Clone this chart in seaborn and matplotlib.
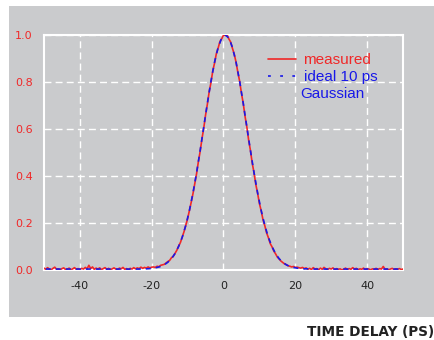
import matplotlib

matplotlib.use("Agg")
import matplotlib.pyplot as plt
import numpy as np
import pandas as pd
import seaborn as sns
from matplotlib.lines import Line2D
from matplotlib.patches import Rectangle

PANEL_GRAY = "#cacbcd"
RED = "#f02828"
BLUE = "#1818e8"

# measured autocorrelation trace, every 0.5 ps from -50 to 50
MEASURED = [
    # -50 .. -20
    0.008, 0.003, 0.010, 0.004, 0.001, 0.007, 0.012, 0.003, 0.005, 0.000,
    0.006, 0.009, 0.002, 0.004, 0.008, 0.001, 0.005, 0.010, 0.003, 0.006,
    0.002, 0.007, 0.004, 0.011, 0.005, 0.020, 0.006, 0.013, 0.003, 0.008,
    0.004, 0.009, 0.002, 0.006, 0.010, 0.003, 0.007, 0.001, 0.005, 0.009,
    0.004, 0.002, 0.008, 0.005, 0.011, 0.003, 0.006, 0.001, 0.007, 0.004,
    0.010, 0.005, 0.009, 0.006, 0.012, 0.007, 0.011, 0.008, 0.013, 0.009, 0.012,
    # -19.5 .. 20.5
    0.013, 0.011, 0.016, 0.014, 0.020, 0.022, 0.024, 0.030, 0.036, 0.041,
    0.052, 0.058, 0.071, 0.084, 0.102, 0.117, 0.140, 0.163, 0.190, 0.218,
    0.252, 0.288, 0.325, 0.368, 0.410, 0.461, 0.505, 0.558, 0.604, 0.659,
    0.705, 0.757, 0.797, 0.846, 0.880, 0.920, 0.944, 0.972, 0.984, 0.999,
    0.998, 1.001, 0.983, 0.970, 0.943, 0.918, 0.884, 0.841, 0.803, 0.752,
    0.709, 0.654, 0.609, 0.553, 0.509, 0.455, 0.414, 0.364, 0.327, 0.283,
    0.252, 0.214, 0.189, 0.158, 0.138, 0.113, 0.099, 0.081, 0.069, 0.055,
    0.047, 0.038, 0.032, 0.026, 0.023, 0.018, 0.016, 0.013, 0.015, 0.011, 0.012,
    # 21 .. 50
    0.010, 0.008, 0.011, 0.006, 0.009, 0.003, 0.007, 0.002, 0.010, 0.004,
    0.006, 0.001, 0.008, 0.003, 0.011, 0.005, 0.002, 0.007, 0.004, 0.009,
    0.001, 0.006, 0.003, 0.005, 0.000, 0.004, 0.008, 0.002, 0.006, 0.003,
    0.010, 0.004, 0.007, 0.001, 0.005, 0.003, 0.008, 0.002, 0.006, 0.004,
    0.001, 0.005, 0.003, 0.007, 0.002, 0.006, 0.004, 0.015, 0.003, 0.005,
    0.001, 0.004, 0.007, 0.002, 0.005, 0.003, 0.006, 0.002, 0.004,
]
MEASURED_T = np.linspace(-50, 50, len(MEASURED))

# ideal 10 ps gaussian, sampled every 1 ps from -49.5 to 49.5
IDEAL = (
    [0.004] * 25
    + [0.004, 0.004, 0.005, 0.005, 0.006, 0.008, 0.011, 0.015, 0.022, 0.033,
       0.048, 0.070, 0.100, 0.139, 0.190, 0.253, 0.328, 0.414, 0.509, 0.609,
       0.709, 0.803, 0.884, 0.947, 0.987, 1.000, 0.987, 0.947, 0.884, 0.803,
       0.709, 0.609, 0.509, 0.414, 0.328, 0.253, 0.190, 0.139, 0.100, 0.070,
       0.048, 0.033, 0.022, 0.015, 0.011, 0.008, 0.006, 0.005, 0.005, 0.004,
       0.004]
    + [0.004] * 24
)
IDEAL_T = np.linspace(-49.5, 49.5, len(IDEAL))

X_TICKS = [-40, -20, 0, 20, 40]
Y_TICKS = [0.0, 0.2, 0.4, 0.6, 0.8, 1.0]

measured = pd.DataFrame({"t": MEASURED_T, "y": MEASURED})
ideal = pd.DataFrame({"t": IDEAL_T, "y": IDEAL})

sns.set_style("white")
plt.rcParams["font.family"] = ["DejaVu Sans"]
plt.rcParams["axes.unicode_minus"] = False

fig = plt.figure(figsize=(4.35, 3.4), dpi=100, facecolor="white")
# gray panel behind the plot
panel = fig.add_axes([9 / 435, 1 - 317 / 340, 1, (317 - 6) / 340], zorder=-5)
panel.set_axis_off()
panel.add_patch(Rectangle((0, 0), 1, 1, transform=panel.transAxes,
                          facecolor=PANEL_GRAY, edgecolor="none"))

ax = fig.add_axes([44 / 435, 1 - 270 / 340, 359 / 435, 235 / 340], zorder=1)
ax.set_facecolor(PANEL_GRAY)

sns.lineplot(data=measured, x="t", y="y", ax=ax, color=RED, linewidth=1.2,
             legend=False, zorder=3)
sns.lineplot(data=ideal, x="t", y="y", ax=ax, color=BLUE, linewidth=1.2,
             legend=False, zorder=4)
ax.lines[1].set_dashes([3, 3])

ax.set_xlim(-50, 50)
ax.set_ylim(0, 1.0)
ax.set_xticks(X_TICKS)
ax.set_yticks(Y_TICKS)
ax.set_yticklabels([f"{v:.1f}" for v in Y_TICKS])
ax.set_xlabel("")
ax.set_ylabel("")
ax.tick_params(axis="both", length=0, labelsize=8)
ax.tick_params(axis="y", colors=RED, pad=8)
ax.tick_params(axis="x", colors="#222222", pad=8)

ax.grid(True, color="white", linestyle=(0, (5, 3)), linewidth=1.0)
for spine in ax.spines.values():
    spine.set_color("white")
    spine.set_linewidth(1.5)
    spine.set_visible(True)

handles = [
    Line2D([], [], color=RED, linewidth=1.2),
    Line2D([], [], color=BLUE, linewidth=1.2, linestyle=(0, (1.7, 5.6))),
    Line2D([], [], color=BLUE, linewidth=0),
]
leg = ax.legend(handles, ["measured", "ideal 10 ps", "Gaussian"],
                loc="upper left", bbox_to_anchor=(0.608, 0.948), frameon=False,
                prop={"family": "Liberation Sans", "size": 11},
                handlelength=1.8, handletextpad=0.5, labelspacing=0.2,
                borderaxespad=0)
for text in leg.get_texts():
    text.set_color(RED if text.get_text() == "measured" else BLUE)
# "Gaussian" continues the blue label, so pull it slightly left like the original
leg.get_texts()[2].set_x(-3)

fig.text(307 / 435, 1 - 332 / 340, "TIME DELAY (PS)", ha="left", va="center",
         fontsize=9.8, fontweight="bold", color="#222222")

fig.savefig("out.png", dpi=100, facecolor="white")
